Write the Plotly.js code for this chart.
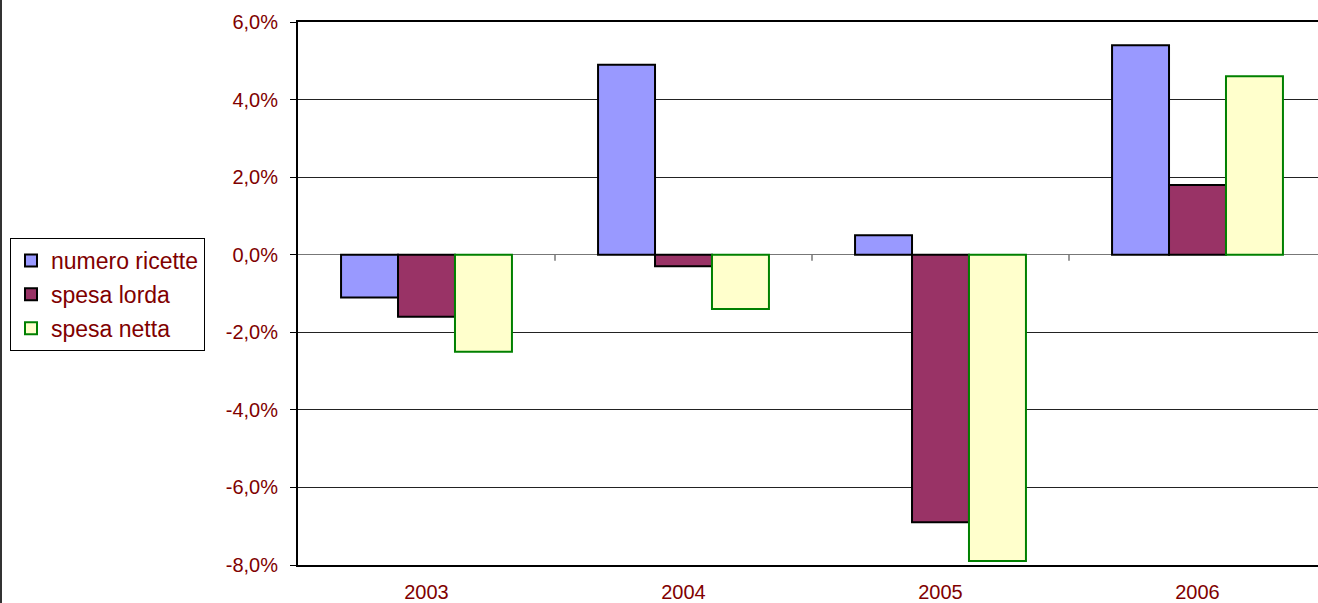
<!DOCTYPE html>
<html>
<head>
<meta charset="utf-8">
<script src="https://cdn.plot.ly/plotly-3.0.1.min.js"></script>
<style>html,body{margin:0;padding:0;background:#fff;}#chart{width:1318px;height:603px;}</style>
</head>
<body>
<div id="chart"></div>
<script>
const categories = ["2003", "2004", "2005", "2006"];
const numeroRicette = [-1.1, 4.9, 0.5, 5.4];
const spesaLorda = [-1.6, -0.3, -6.9, 1.8];
const spesaNetta = [-2.5, -1.4, -7.9, 4.6];
const seriesNames = ["numero ricette", "spesa lorda", "spesa netta"];
const yTicks = [-8, -6, -4, -2, 0, 2, 4, 6];
const yTickText = yTicks.map(v => v.toFixed(1).replace(".", ",") + "%");

const textColor = "#800000";
const font = "Arial, 'Liberation Sans', sans-serif";

const traces = [
  {type: "bar", name: seriesNames[0], legendgroup: "a", x: categories, y: numeroRicette,
   marker: {color: "#9999FF", line: {color: "#000000", width: 2}}},
  {type: "bar", name: seriesNames[1], legendgroup: "b", x: categories, y: spesaLorda,
   marker: {color: "#993366", line: {color: "#000000", width: 2}}},
  {type: "bar", name: seriesNames[2], legendgroup: "c", x: categories, y: spesaNetta,
   marker: {color: "#FFFFCC", line: {color: "#008000", width: 2}}}
];

const plotW = 1020, plotH = 543;
const shapes = [];
// tick marks on the zero line between categories
for (let i = 0; i < categories.length - 1; i++) {
  shapes.push({type: "line", xref: "x", yref: "y", ysizemode: "pixel", yanchor: 0,
    x0: i + 0.5, x1: i + 0.5, y0: 0, y1: -6, line: {color: "#777", width: 1.5}});
}
// chart-area left border
shapes.push({type: "line", xref: "paper", yref: "paper",
  x0: -297 / plotW, x1: -297 / plotW, y0: -38 / plotH, y1: 1 + 22 / plotH,
  line: {color: "#333", width: 2}});

const layout = {
  width: 1318, height: 603,
  margin: {l: 298, r: 0, t: 22, b: 38, pad: 0},
  paper_bgcolor: "#fff", plot_bgcolor: "#fff",
  barmode: "group", bargap: 0.335, bargroupgap: 0,
  showlegend: true,
  legend: {x: -288 / plotW, y: (565 - 238) / plotH, xanchor: "left", yanchor: "top",
    bgcolor: "#fff", bordercolor: "#000", borderwidth: 1,
    font: {family: font, size: 23, color: textColor}, traceorder: "grouped",
    tracegroupgap: 1, itemwidth: 30},
  xaxis: {type: "category", range: [-0.5, 3.5 - 8 / 257],
    showline: true, mirror: true, linecolor: "#000", linewidth: 2,
    showgrid: false, ticks: "", ticklabelstandoff: 8,
    tickfont: {family: font, size: 20, color: textColor}},
  yaxis: {range: [-8, 6], tickmode: "array", tickvals: yTicks, ticktext: yTickText,
    showline: true, linecolor: "#000", linewidth: 2,
    showgrid: true, gridcolor: "#222", gridwidth: 1,
    zeroline: true, zerolinecolor: "#777", zerolinewidth: 1.5,
    ticks: "outside", ticklen: 6, tickcolor: "#000", tickwidth: 1,
    ticklabelstandoff: 8,
    tickfont: {family: font, size: 20, color: textColor}},
  shapes: shapes
};

Plotly.newPlot("chart", traces, layout, {displayModeBar: false, staticPlot: true});
</script>
</body>
</html>
